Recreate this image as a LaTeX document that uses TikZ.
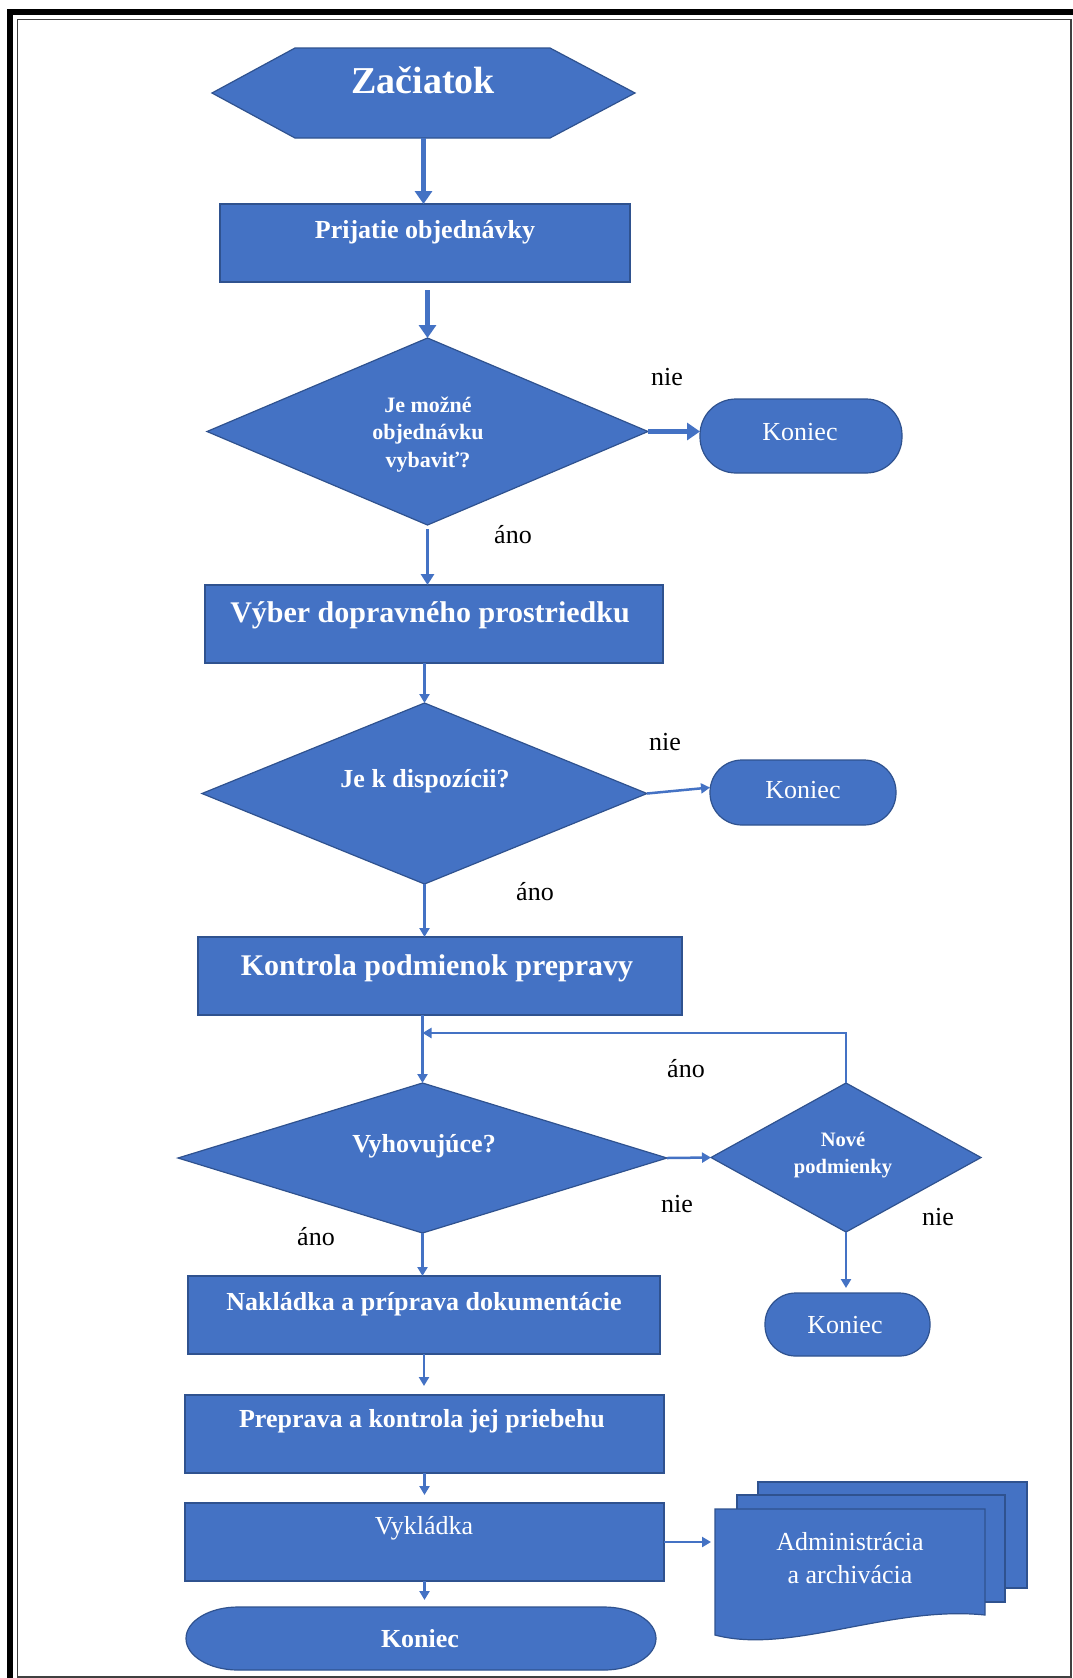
\documentclass[tikz,border=0pt]{standalone}
\usepackage{fontspec}
\setmainfont{Liberation Serif}
\usetikzlibrary{arrows.meta,shapes.geometric,calc}
\definecolor{ofblue}{HTML}{4472C4}
\definecolor{ofdark}{HTML}{2F528F}
\def\pxu{0.75pt}
\begin{document}
\begin{tikzpicture}[x=0.75pt,y=-0.75pt,
  shp/.style={fill=ofblue, draw=ofdark, line width=1.2*\pxu, inner sep=0pt, outer sep=0pt},
  box/.style={shp, rectangle, minimum width=#1*\pxu, minimum height=78*\pxu},
  dia/.style args={#1x#2}{shp, diamond, minimum width=#1*\pxu, minimum height=#2*\pxu},
  ghost/.style args={#1x#2}{inner sep=0pt, outer sep=0pt, minimum width=#1*\pxu, minimum height=#2*\pxu},
  wb/.style={inner sep=0pt, outer sep=0pt, anchor=base, text=white, font=\bfseries\fontsize{#1}{#1}\selectfont},
  wr/.style={inner sep=0pt, outer sep=0pt, anchor=base, text=white, font=\fontsize{#1}{#1}\selectfont},
  lb/.style={inner sep=0pt, outer sep=0pt, anchor=base, text=black, font=\fontsize{19.5}{19.5}\selectfont},
  thk/.style={draw=ofblue, line width=4.5*\pxu, -{Triangle[length=13*\pxu, width=17*\pxu]}},
  mid/.style={draw=ofblue, line width=3.5*\pxu, -{Triangle[length=11*\pxu, width=13*\pxu]}},
  thn/.style={draw=ofblue, line width=2.5*\pxu, -{Triangle[length=9*\pxu, width=10*\pxu]}},
  doc/.style={fill=ofblue, draw=ofdark, line width=1.2*\pxu}
]
\useasboundingbox (0,0) rectangle (1072,1678);
\fill[white] (0,0) rectangle (1072,1678);
% frame
\draw[line width=6.6*\pxu, black] (10,1690) -- (10,12) -- (1085,12);
\draw[line width=1.5*\pxu, black!75] (17.3,19.5) rectangle (1071,1676.8);

% start hexagon
\filldraw[doc] (212,93) -- (295,48) -- (550,48) -- (635,93) -- (550,138) -- (295,138) -- cycle;
\node[ghost=423x90] (start) at (423.5,93) {};
\node[wb=28.5] (tstart) at (423,93) {Začiatok};

% boxes
\node[box=410] (prij) at (425,243) {};
\node[box=458] (vyber) at (434,624) {};
\node[box=484] (kontr) at (440,976) {};
\node[box=472] (nakl) at (424,1315) {};
\node[box=479] (prep) at (424.5,1434) {};
\node[box=479] (vykl) at (424.5,1542) {};

% diamonds
\node[dia=441x187] (d1) at (427.5,431.5) {};
\node[dia=445x181] (d2) at (424.5,793.5) {};
\node[dia=489x150] (d3) at (422.5,1158) {};
\node[dia=270x149] (d4) at (846,1157.5) {};

% terminators
\node[shp, rectangle, minimum width=202*\pxu, minimum height=74*\pxu, rounded corners=27pt] (k1) at (801,436) {};
\node[shp, rectangle, minimum width=186*\pxu, minimum height=65*\pxu, rounded corners=24pt] (k2) at (803,792.5) {};
\node[shp, rectangle, minimum width=165*\pxu, minimum height=63*\pxu, rounded corners=23pt] (k3) at (847.5,1324.5) {};
\filldraw[doc] (238,1607) -- (604,1607) arc[start angle=-90, end angle=90, x radius=52, y radius=31.5]
  -- (238,1670) arc[start angle=90, end angle=270, x radius=52, y radius=31.5] -- cycle;
\node[ghost=470x63] (kend) at (421,1638.5) {};

% multidocument
\filldraw[doc] (758,1482) rectangle (1027,1588);
\filldraw[doc] (737,1495) rectangle (1005,1602);
\filldraw[doc] (715,1509) -- (985,1509) -- (985,1615) .. controls (890,1605) and (790,1655) .. (715,1635) -- cycle;
\node[ghost=270x126] (docs) at (850,1572) {};

% texts in shapes
\node[wb=19.5] (tprij) at (425,238) {Prijatie objednávky};
\node[wb=16.5] (td1a) at (428,412) {Je možné};
\node[wb=16.5] (td1b) at (428,439) {objednávku};
\node[wb=16.5] (td1c) at (428,467) {vybaviť?};
\node[wr=19.5] (tk1) at (800,440) {Koniec};
\node[wb=22.5] (tvyber) at (430,622) {Výber dopravného prostriedku};
\node[wb=19.5] (td2) at (425,787) {Je k dispozícii?};
\node[wr=19.5] (tk2) at (803,798) {Koniec};
\node[wb=22.5] (tkontr) at (437,975) {Kontrola podmienok prepravy};
\node[wb=19.5] (td3) at (424,1152) {Vyhovujúce?};
\node[wb=15.4] (td4a) at (843,1146) {Nové};
\node[wb=15.4] (td4b) at (843,1173) {podmienky};
\node[wr=19.5] (tk3) at (845,1333) {Koniec};
\node[wb=19.5] (tnakl) at (424,1310) {Nakládka a príprava dokumentácie};
\node[wb=19.5] (tprep) at (422,1427) {Preprava a kontrola jej priebehu};
\node[wr=19.5] (tvykl) at (424,1534) {Vykládka};
\node[wb=19.5] (tkend) at (420,1647) {Koniec};
\node[wr=19.5] (tdoc1) at (850,1550) {Administrácia};
\node[wr=19.5] (tdoc2) at (850,1583) {a archivácia};

% branch labels
\node[lb] (l1) at (667,385) {nie};
\node[lb] (l2) at (513,543) {áno};
\node[lb] (l3) at (665,750) {nie};
\node[lb] (l4) at (535,900) {áno};
\node[lb] (l5) at (686,1077) {áno};
\node[lb] (l6) at (677,1212) {nie};
\node[lb] (l7) at (316,1245) {áno};
\node[lb] (l8) at (938,1225) {nie};

% connectors
\draw[thk] (start.south) -- (start.south |- prij.north);
\draw[thk, shorten <=8*\pxu] (prij.south -| d1.north) -- (d1.north);
\draw[thk] (d1.east) -- (d1.east -| k1.west);
\draw[mid, shorten <=4*\pxu] (d1.south) -- (d1.south |- vyber.north);
\draw[thn] (vyber.south -| d2.north) -- (d2.north);
\draw[thn] (d2.east) -- ($(k2.west)+(0,-5)$);
\draw[thn] (d2.south) -- (d2.south |- kontr.north);
\draw[thn] (kontr.south -| d3.north) -- (d3.north);
\coordinate (loopy) at (0,1033);
\coordinate (loopend) at (d3.north |- loopy);
\draw[thn] (d4.north) |- (loopend);
\draw[thn] (d3.east) -- (d4.west);
\draw[thn, shorten >=5*\pxu] (d4.south) -- (d4.south |- k3.north);
\draw[thn] (d3.south) -- (d3.south |- nakl.north);
\draw[thn, shorten >=9*\pxu] (nakl.south) -- (nakl.south |- prep.north);
\draw[thn, shorten >=8*\pxu] (prep.south) -- (prep.south |- vykl.north);
\draw[thn, shorten >=7*\pxu] (vykl.south) -- (vykl.south |- kend.north);
\draw[thn, shorten >=4*\pxu] (vykl.east) -- (vykl.east -| docs.west);
\end{tikzpicture}
\end{document}
